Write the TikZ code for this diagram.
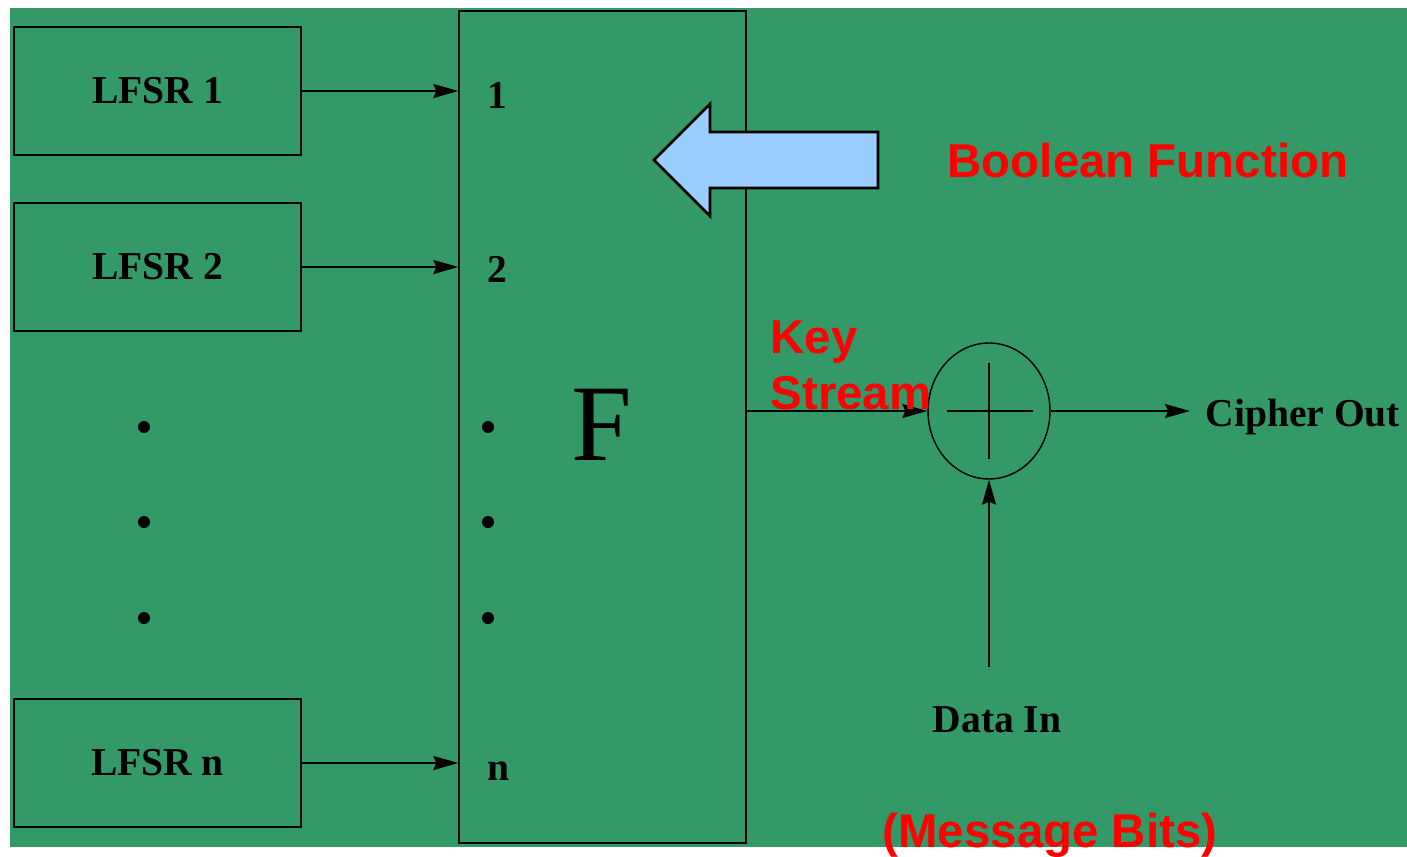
\documentclass[tikz,border=0pt]{standalone}
\usepackage{fontspec}
\setmainfont{Liberation Serif}
\newfontfamily\labelfont{Liberation Sans}
\usetikzlibrary{arrows.meta,positioning,shapes.geometric}
\definecolor{boardgreen}{RGB}{51,153,102}
\definecolor{hintblue}{RGB}{153,204,255}

\begin{document}
\begin{tikzpicture}[x=0.02cm,y=-0.02cm,line width=0.8pt,
  lfsr/.style={draw,minimum width=5.74cm,minimum height=2.56cm,font=\fontsize{22.5}{27}\selectfont\bfseries},
  pin/.style={inner sep=0,font=\fontsize{22.5}{27}\selectfont\bfseries},
  note/.style={inner sep=0,text=red,align=left,font=\labelfont\fontsize{27}{32}\selectfont\bfseries},
  sig/.style={-{Stealth[length=5mm,width=2.8mm,inset=0.6mm]}}]
\useasboundingbox (0,0) rectangle (1407,856);
\fill[boardgreen] (10,8) rectangle (1407,847);
% register bank
\node[lfsr] (r1) at (157.5,91) {LFSR 1};
\node[lfsr] (r2) at (157.5,267) {LFSR 2};
\node[lfsr] (rn) at (157.5,763) {LFSR n};
% combining function
\node[draw,minimum width=5.74cm,minimum height=16.64cm] (f) at (602.5,427) {};
\node[anchor=base,inner sep=0,font=\fontsize{62}{70}\selectfont] (fname) at (602,460) {F};
\node[pin,anchor=base] (p1) at (497,108) {1};
\node[pin,anchor=base] (p2) at (497,282) {2};
\node[pin,anchor=base] (pn) at (498,780) {n};
\foreach \y in {427,522,618} {
  \fill (144,\y) circle (0.12cm);
  \fill (488,\y) circle (0.12cm);
}
\draw[sig] (r1.east) -- (r1.east -| f.west);
\draw[sig] (r2.east) -- (r2.east -| f.west);
\draw[sig] (rn.east) -- (rn.east -| f.west);
% hint arrow
\draw[fill=hintblue,line width=1.6pt] (878,132) -- (710,132) -- (710,104) -- (654,160)
  -- (710,216) -- (710,188) -- (878,188) -- cycle;
\node[note,anchor=base west] (bf) at (947,177) {Boolean Function};
% xor stage
\node[draw,ellipse,inner sep=0,minimum width=2.44cm,minimum height=2.72cm] (xor) at (989,411) {};
\draw (947,411) -- (1033,411);
\draw (989,363) -- (989,459);
\draw[sig] (xor.west -| f.east) -- (xor.west);
\node[note,anchor=north west] (ks) at (770,320) {Key\\Stream};
\node[anchor=base west,inner xsep=0.3cm,inner ysep=0,font=\fontsize{22.5}{27}\selectfont\bfseries] (out) at (1190,426) {Cipher Out};
\draw[sig] (xor.east) -- (out.west |- xor.east);
\coordinate (din) at (989,667);
\draw[sig] (din) -- (xor.south);
\node[anchor=base,inner sep=0,font=\fontsize{22.5}{27}\selectfont\bfseries] (data) at (997,732) {Data In};
\node[note,anchor=base] (msg) at (1050,847) {(Message Bits)};
\end{tikzpicture}
\end{document}
